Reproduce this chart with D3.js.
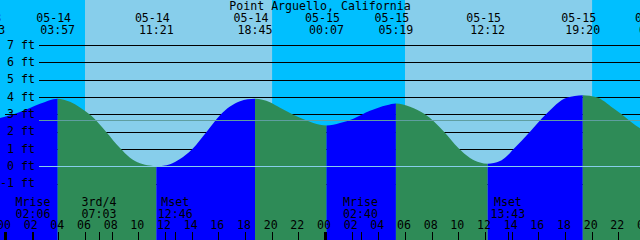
<!DOCTYPE html>
<html>
<head>
<meta charset="utf-8">
<script src="https://cdn.jsdelivr.net/npm/d3@7"></script>
<style>
body { margin: 0; background: #fff; }
svg { display: block; }
text { font-family: "DejaVu Sans Mono", monospace; font-size: 11.6px; fill: #000; }
</style>
</head>
<body>
<div id="chart"></div>
<script>
var title = "Point Arguello, California";

// high / low tides
var tideDates = ["05-13", "05-14", "05-14", "05-14", "05-15", "05-15", "05-15", "05-15", "05-16"];
var tideTimes = ["22:43", "03:57", "11:21", "18:45", "00:07", "05:19", "12:12", "19:20", "00:52"];
var tideKinds = ["low", "high", "low", "high", "low", "high", "low", "high", "low"];

// water level: hours after 05-14 00:00, feet
var curveHours = [-2.0, -1.28, -0.375, 1.125, 2.625, 3.95, 4.875, 5.625, 6.5, 7.575, 8.625, 9.375, 10.125, 10.875, 11.35,
    12.375, 13.125, 14.05, 15.125, 16.125, 16.875, 17.625, 18.75, 19.875, 20.625, 21.625, 22.625, 23.625, 24.117,
    25.125, 26.125, 27.375, 28.625, 29.317, 30.375, 31.5, 32.925, 34.0, 34.875, 35.625, 36.2,
    37.125, 37.625, 38.125, 39.375, 40.575, 42.125, 43.333, 44.37, 45.625, 46.25, 47.625, 48.87, 49.5];
var curveFeet = [2.74, 2.70, 2.79, 3.13, 3.61, 3.90, 3.72, 3.40, 2.90, 2.00, 1.05, 0.50, 0.18, 0.04, 0.00,
    0.12, 0.42, 1.00, 2.00, 2.95, 3.45, 3.76, 3.90, 3.70, 3.38, 2.98, 2.65, 2.40, 2.35,
    2.50, 2.75, 3.20, 3.52, 3.62, 3.44, 3.00, 2.00, 1.05, 0.48, 0.22, 0.15,
    0.30, 0.58, 0.98, 2.00, 3.00, 3.95, 4.10, 3.98, 3.35, 3.00, 2.20, 1.94, 1.97];

// moon events
var moonNames = ["Mrise", "3rd/4", "Mset", "Mrise", "Mset"];
var moonDates = ["05-14", "05-14", "05-14", "05-15", "05-15"];
var moonTimes = ["02:06", "07:03", "12:46", "02:40", "13:43"];

var sunriseDates = ["05-14", "05-15"];
var sunriseTimes = ["06:00", "06:00"];
var sunsetDates = ["05-14", "05-15"];
var sunsetTimes = ["20:02", "20:02"];

var heightTicks = [-1, 0, 1, 2, 3, 4, 5, 6, 7];
var mslFeet = 2.66;
var hourTicks = [0, 2, 4, 6, 8, 10, 12, 14, 16, 18, 20, 22, 24, 26, 28, 30, 32, 34, 36, 38, 40, 42, 44, 46, 48];

var W = 640, H = 240;
var colors = {day: "#87ceeb", night: "#00bfff", rise: "#0000ff", fall: "#2e8b57", datum: "#87ceeb", msl: "#5f9ea0"};

function toHours(date, time) {
    var day = +date.split("-")[1];
    var p = time.split(":");
    return (day - 14) * 24 + (+p[0]) + (+p[1]) / 60;
}

var x = d3.scaleLinear().domain([0, 48]).range([5, 645]);
var y = d3.scaleLinear().domain([-1, 7]).range([183.63, 45]);

var svg = d3.select("#chart").append("svg").attr("width", W).attr("height", H);

// day / night background
svg.append("rect").attr("x", 0).attr("y", 0).attr("width", W).attr("height", H).attr("fill", colors.day);
var rises = sunriseDates.map(function(d, i) { return toHours(d, sunriseTimes[i]); });
var sets = sunsetDates.map(function(d, i) { return toHours(d, sunsetTimes[i]); });
var nights = [[-3, rises[0]], [sets[0], rises[1]], [sets[1], 51]];
svg.append("g").selectAll("rect").data(nights).join("rect")
    .attr("x", function(d) { return x(d[0]); }).attr("y", 0)
    .attr("width", function(d) { return x(d[1]) - x(d[0]); }).attr("height", H)
    .attr("fill", colors.night);

// height grid
var grid = svg.append("g").attr("shape-rendering", "crispEdges");
grid.selectAll("line").data(heightTicks).join("line")
    .attr("x1", 39).attr("x2", W)
    .attr("y1", function(d) { return Math.round(y(d)) + 0.5; })
    .attr("y2", function(d) { return Math.round(y(d)) + 0.5; })
    .attr("stroke", "#000");

// water
var curve = curveHours.map(function(h, i) { return {h: h, ft: curveFeet[i]}; });
var area = d3.area().x(function(d) { return x(d.h); }).y0(H).y1(function(d) { return y(d.ft); })
    .curve(d3.curveMonotoneX);
svg.append("clipPath").attr("id", "water").append("path").attr("d", area(curve));

var tideHours = tideDates.map(function(d, i) { return toHours(d, tideTimes[i]); });
var phases = [];
for (var i = 0; i < tideHours.length - 1; i++) {
    phases.push({a: tideHours[i], b: tideHours[i + 1], rising: tideKinds[i] == "low"});
}
phases.unshift({a: -3, b: tideHours[0], rising: false});
phases.push({a: tideHours[tideHours.length - 1], b: 51, rising: true});
svg.append("g").attr("clip-path", "url(#water)").selectAll("rect").data(phases).join("rect")
    .attr("x", function(d) { return x(d.a); }).attr("y", 0)
    .attr("width", function(d) { return x(d.b) - x(d.a); }).attr("height", H)
    .attr("fill", function(d) { return d.rising ? colors.rise : colors.fall; });

// datum and mean sea level
var refs = svg.append("g").attr("shape-rendering", "crispEdges");
refs.append("line").attr("x1", 39).attr("x2", W)
    .attr("y1", Math.round(y(0)) + 0.5).attr("y2", Math.round(y(0)) + 0.5).attr("stroke", colors.datum);
refs.append("line").attr("x1", 39).attr("x2", W)
    .attr("y1", Math.round(y(mslFeet)) + 0.5).attr("y2", Math.round(y(mslFeet)) + 0.5).attr("stroke", colors.msl);
refs.append("line").attr("x1", 5).attr("x2", 17)
    .attr("y1", Math.round(y(3)) + 0.5).attr("y2", Math.round(y(3)) + 0.5).attr("stroke", "#000");

// height labels
svg.append("g").selectAll("text").data(heightTicks).join("text")
    .attr("x", 35).attr("y", function(d) { return y(d) + 3.6; })
    .attr("text-anchor", "end")
    .text(function(d) { return d + " ft"; });

// title
svg.append("text").attr("x", 320).attr("y", 10).attr("text-anchor", "middle").text(title);

// tide labels
var tideLabels = svg.append("g");
tideHours.forEach(function(h, i) {
    tideLabels.append("text").attr("x", x(h) - 4).attr("y", 21.6).attr("text-anchor", "middle").text(tideDates[i]);
    tideLabels.append("text").attr("x", x(h)).attr("y", 34).attr("text-anchor", "middle").text(tideTimes[i]);
});

// moon labels and ticks
var moonHours = moonDates.map(function(d, i) { return toHours(d, moonTimes[i]); });
var moonLabels = svg.append("g");
moonHours.forEach(function(h, i) {
    moonLabels.append("text").attr("x", x(h)).attr("y", 206).attr("text-anchor", "middle").text(moonNames[i]);
    moonLabels.append("text").attr("x", x(h)).attr("y", 217.6).attr("text-anchor", "middle").text(moonTimes[i]);
});

// hour axis
var ticks = svg.append("g").attr("shape-rendering", "crispEdges");
ticks.selectAll("line.moon").data(moonHours).join("line").attr("class", "moon")
    .attr("x1", function(d) { return Math.round(x(d)) + 0.5; })
    .attr("x2", function(d) { return Math.round(x(d)) + 0.5; })
    .attr("y1", 232).attr("y2", H).attr("stroke", "#000");
ticks.selectAll("rect.hour").data(hourTicks).join("rect").attr("class", "hour")
    .attr("x", function(d) { return d % 24 == 0 ? Math.round(x(d)) - 1 : Math.round(x(d)); })
    .attr("width", function(d) { return d % 24 == 0 ? 3 : 1; })
    .attr("y", 232).attr("height", 8).attr("fill", "#000");
svg.append("g").selectAll("text").data(hourTicks).join("text")
    .attr("x", function(d) { return x(d) - 1; }).attr("y", 229)
    .attr("text-anchor", "middle")
    .text(function(d) { return d3.format("02d")(d % 24); });
</script>
</body>
</html>
